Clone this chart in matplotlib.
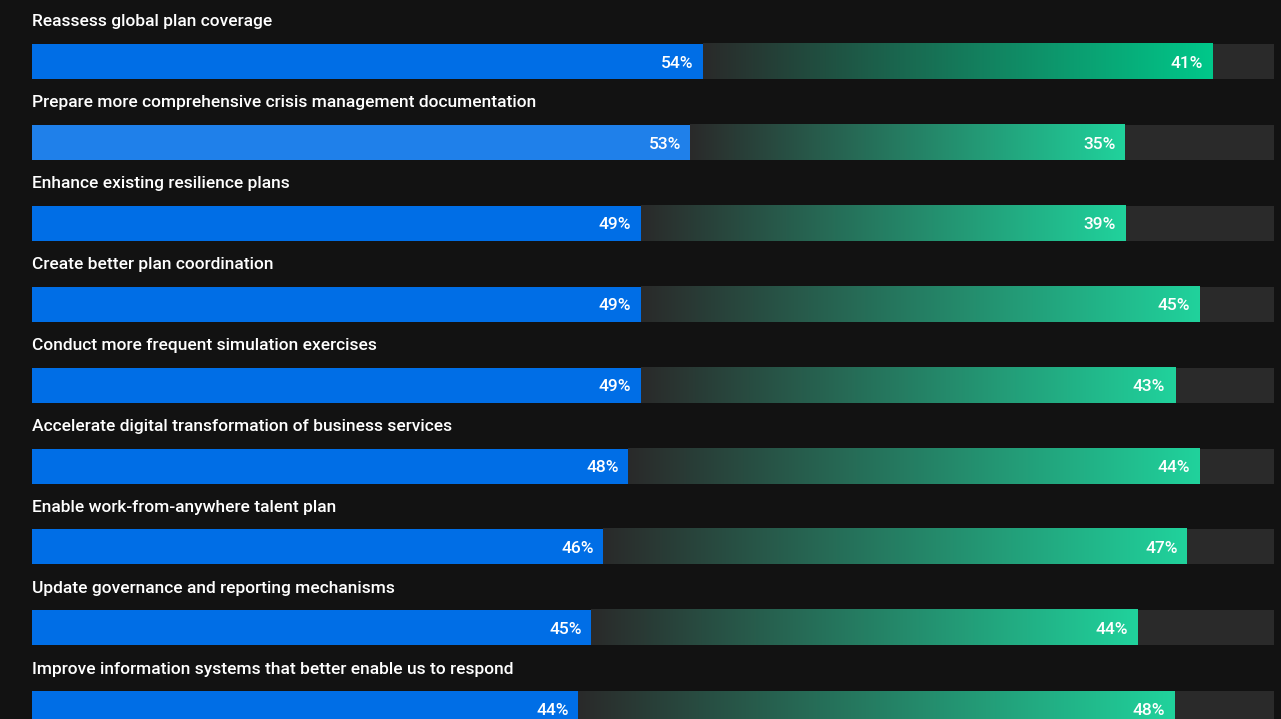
import matplotlib.pyplot as plt
import numpy as np
from matplotlib.colors import LinearSegmentedColormap

# Data
categories = [
    "Reassess global plan coverage",
    "Prepare more comprehensive crisis management documentation",
    "Enhance existing resilience plans",
    "Create better plan coordination",
    "Conduct more frequent simulation exercises",
    "Accelerate digital transformation of business services",
    "Enable work-from-anywhere talent plan",
    "Update governance and reporting mechanisms",
    "Improve information systems that better enable us to respond",
]
blue_vals = [54, 53, 49, 49, 49, 48, 46, 45, 44]
green_vals = [41, 35, 39, 45, 43, 44, 47, 44, 48]
# drawn length of green segment (reference draws row 6 longer than its label)
green_lengths = [41, 35, 39, 45, 43, 46, 47, 44, 48]

# Styles
bg = "#121212"
track = "#2a2a2a"
blue_cols = ["#006ee6", "#1f80ea"] + ["#006ee6"] * 7
green_ends = ["#00c88a"] + ["#20d29c"] * 8

plt.rcParams['font.family'] = ['Roboto', 'DejaVu Sans']

fig = plt.figure(figsize=(12.81, 7.19), dpi=100, facecolor=bg)
ax = fig.add_axes([32 / 1281, 0, (1274 - 32) / 1281, 1])
ax.set_facecolor(bg)
ax.axis("off")

h = 35 / 80.9
grad = np.linspace(0, 1, 256).reshape(1, -1)

for i, cat in enumerate(categories):
    b, g, gl = blue_vals[i], green_vals[i], green_lengths[i]
    # background track
    ax.barh(i, 100, height=h, color=track, zorder=1)
    # blue segment
    ax.barh(i, b, height=h, color=blue_cols[i], zorder=3)
    # green gradient segment
    cmap = LinearSegmentedColormap.from_list("g%d" % i, [track, green_ends[i]])
    ax.imshow(grad, cmap=cmap, aspect="auto", zorder=2,
              extent=[b, b + gl, i + h / 2, i - h / 2])
    # labels
    ax.text(b - 0.75, i + 0.02, f"{b}%", color="white", fontsize=12.5,
            fontweight="medium", ha="right", va="center", zorder=5)
    ax.text(b + gl - 0.75, i + 0.02, f"{g}%", color="white", fontsize=12.5,
            fontweight="medium", ha="right", va="center", zorder=5)
    ax.text(0, i - 0.49, cat, color="white", fontsize=12.5,
            fontweight="medium", ha="left", va="center")

ax.set_xlim(0, 100)
ax.set_ylim(8.127, -0.760)

fig.savefig("out.png", dpi=100, facecolor=bg)
